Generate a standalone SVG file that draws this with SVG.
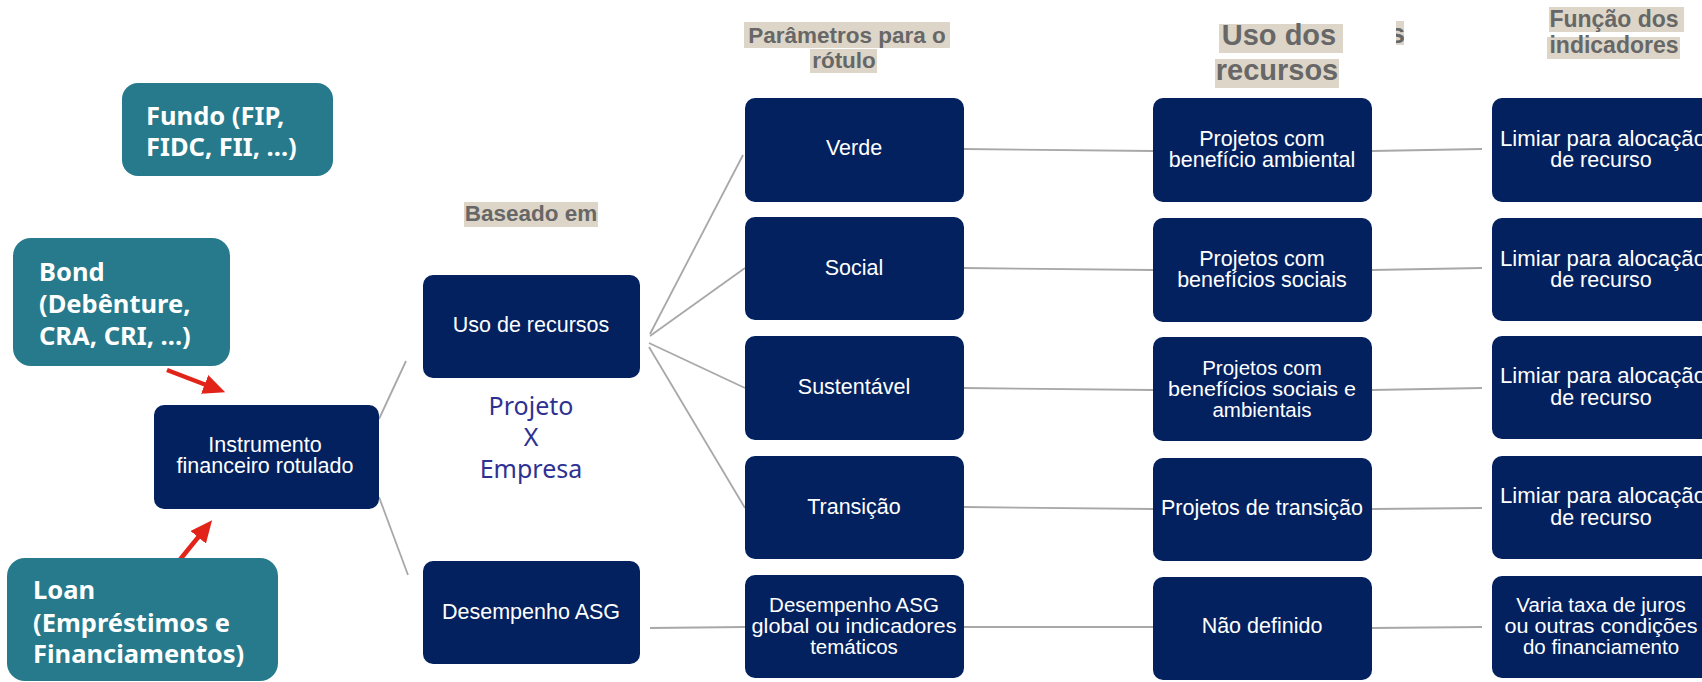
<svg xmlns="http://www.w3.org/2000/svg" width="1702" height="682" viewBox="0 0 1702 682">
<style>
.teal{fill:#267a8b}
.navy{fill:#03215f}
.tt{font-family:"Noto Sans","DejaVu Sans",sans-serif;font-weight:bold;font-size:25.5px;fill:#ffffff}
.nt{font-family:"Liberation Sans",Arial,sans-serif;font-size:21.5px;fill:#ffffff;text-anchor:middle}
.n3{font-size:20.5px}
.hl{fill:#ddd6c8}
.ht{font-family:"Liberation Sans",Arial,sans-serif;font-weight:bold;fill:#676767;text-anchor:middle}
.pe{font-family:"Noto Sans","DejaVu Sans",sans-serif;font-size:25px;fill:#2e3192;text-anchor:middle}
.cn{stroke:#a8a8a8;stroke-width:1.8;fill:none}
.ra{stroke:#e2231a;stroke-width:4.5;fill:none}
</style>
<defs>
<marker id="redArrow" markerUnits="userSpaceOnUse" markerWidth="22" markerHeight="20" viewBox="0 0 22 20" refX="10" refY="10" orient="auto">
<path d="M0,0 L22,10 L0,20 z" fill="#e2231a"/>
</marker>
<clipPath id="sclip"><rect x="1396" y="21" width="8" height="24"/></clipPath>
</defs>
<rect width="1702" height="682" fill="#ffffff"/>

<g id="labels">
<rect class="hl" x="744" y="22" width="206" height="26"/>
<rect class="hl" x="810" y="49" width="67" height="24"/>
<text class="ht" x="847" y="43" font-size="22.5">Parâmetros para o</text>
<text class="ht" x="844" y="68" font-size="22.5">rótulo</text>
<rect class="hl" x="464" y="202" width="134" height="25"/>
<text class="ht" x="531" y="221" font-size="22.5">Baseado em</text>
<rect class="hl" x="1219" y="24" width="124" height="29"/>
<rect class="hl" x="1215" y="59" width="124" height="29"/>
<text class="ht" x="1279" y="45" font-size="29">Uso dos</text>
<text class="ht" x="1277" y="80" font-size="29">recursos</text>
<rect class="hl" x="1396" y="21" width="8" height="24"/>
<text class="ht" x="1405" y="43" font-size="28" style="text-anchor:end" clip-path="url(#sclip)">s</text>
<rect class="hl" x="1549" y="7" width="135" height="25"/>
<rect class="hl" x="1547" y="37" width="133" height="22"/>
<text class="ht" x="1614" y="27" font-size="23">Função dos</text>
<text class="ht" x="1614" y="53" font-size="23">indicadores</text>
<text class="pe" x="531" y="415">Projeto</text>
<text class="pe" x="531" y="446">X</text>
<text class="pe" x="531" y="478">Empresa</text>
</g>

<g id="connectors">
<line class="cn" x1="379" y1="419" x2="406" y2="361"/>
<line class="cn" x1="379" y1="497" x2="408" y2="575"/>
<line class="cn" x1="650" y1="334" x2="743" y2="155"/>
<line class="cn" x1="650" y1="336" x2="745" y2="268"/>
<line class="cn" x1="649" y1="343" x2="745" y2="388"/>
<line class="cn" x1="649" y1="347" x2="745" y2="508"/>
<line class="cn" x1="650" y1="628" x2="745" y2="627"/>
<line class="cn" x1="964" y1="149" x2="1153" y2="151"/>
<line class="cn" x1="964" y1="268" x2="1153" y2="270"/>
<line class="cn" x1="964" y1="388" x2="1153" y2="390"/>
<line class="cn" x1="964" y1="507" x2="1153" y2="509"/>
<line class="cn" x1="964" y1="627" x2="1153" y2="627"/>
<line class="cn" x1="1372" y1="151" x2="1482" y2="149"/>
<line class="cn" x1="1372" y1="270" x2="1482" y2="268"/>
<line class="cn" x1="1372" y1="390" x2="1482" y2="388"/>
<line class="cn" x1="1372" y1="509" x2="1482" y2="508"/>
<line class="cn" x1="1372" y1="628" x2="1482" y2="627"/>
<line class="ra" x1="167" y1="370" x2="214" y2="388" marker-end="url(#redArrow)"/>
<line class="ra" x1="178" y1="562" x2="204.5" y2="529.5" marker-end="url(#redArrow)"/>
</g>

<g id="fundo"><rect class="teal" x="122" y="83" width="211" height="93" rx="16"/>
<text class="tt" x="146" y="125">Fundo (FIP,</text><text class="tt" x="146" y="156">FIDC, FII, ...)</text></g>
<g id="bond"><rect class="teal" x="13" y="238" width="217" height="128" rx="18"/>
<text class="tt" x="39" y="281">Bond</text><text class="tt" x="39" y="313">(Debênture,</text><text class="tt" x="39" y="345">CRA, CRI, ...)</text></g>
<g id="loan"><rect class="teal" x="7" y="558" width="271" height="123" rx="18"/>
<text class="tt" x="33" y="599">Loan</text><text class="tt" x="33" y="632">(Empréstimos e</text><text class="tt" x="33" y="663">Financiamentos)</text></g>

<g id="instrumento"><rect class="navy" x="154" y="405" width="225" height="104" rx="10"/>
<text class="nt" x="265" y="452">Instrumento</text><text class="nt" x="265" y="473">financeiro rotulado</text></g>
<g id="uso-recursos"><rect class="navy" x="423" y="275" width="217" height="103" rx="10"/>
<text class="nt" x="531" y="332">Uso de recursos</text></g>
<g id="desempenho-asg"><rect class="navy" x="423" y="561" width="217" height="103" rx="10"/>
<text class="nt" x="531" y="619">Desempenho ASG</text></g>

<g id="verde"><rect class="navy" x="745" y="98" width="219" height="104" rx="10"/>
<text class="nt" x="854" y="155">Verde</text></g>
<g id="social"><rect class="navy" x="745" y="217" width="219" height="103" rx="10"/>
<text class="nt" x="854" y="275">Social</text></g>
<g id="sustentavel"><rect class="navy" x="745" y="336" width="219" height="104" rx="10"/>
<text class="nt" x="854" y="394">Sustentável</text></g>
<g id="transicao"><rect class="navy" x="745" y="456" width="219" height="103" rx="10"/>
<text class="nt" x="854" y="514">Transição</text></g>
<g id="desempenho-global"><rect class="navy" x="745" y="575" width="219" height="103" rx="10"/>
<text class="nt n3" x="854" y="612">Desempenho ASG</text><text class="nt n3" x="854" y="633" textLength="205" lengthAdjust="spacingAndGlyphs">global ou indicadores</text><text class="nt n3" x="854" y="654">temáticos</text></g>

<g id="proj-ambiental"><rect class="navy" x="1153" y="98" width="219" height="104" rx="10"/>
<text class="nt" x="1262" y="146">Projetos com</text><text class="nt" x="1262" y="167">benefício ambiental</text></g>
<g id="proj-sociais"><rect class="navy" x="1153" y="218" width="219" height="104" rx="10"/>
<text class="nt" x="1262" y="266">Projetos com</text><text class="nt" x="1262" y="287">benefícios sociais</text></g>
<g id="proj-sociais-ambientais"><rect class="navy" x="1153" y="337" width="219" height="104" rx="10"/>
<text class="nt n3" x="1262" y="375">Projetos com</text><text class="nt n3" x="1262" y="396" textLength="188" lengthAdjust="spacingAndGlyphs">benefícios  sociais e</text><text class="nt n3" x="1262" y="417">ambientais</text></g>
<g id="proj-transicao"><rect class="navy" x="1153" y="458" width="219" height="103" rx="10"/>
<text class="nt" x="1262" y="515">Projetos de transição</text></g>
<g id="nao-definido"><rect class="navy" x="1153" y="577" width="219" height="103" rx="10"/>
<text class="nt" x="1262" y="633">Não definido</text></g>

<g id="limiar-1"><rect class="navy" x="1492" y="98" width="219" height="104" rx="10"/>
<text class="nt" x="1500" y="146" style="text-anchor:start" textLength="206" lengthAdjust="spacingAndGlyphs">Limiar para alocação</text><text class="nt" x="1601" y="167">de recurso</text></g>
<g id="limiar-2"><rect class="navy" x="1492" y="218" width="219" height="103" rx="10"/>
<text class="nt" x="1500" y="266" style="text-anchor:start" textLength="206" lengthAdjust="spacingAndGlyphs">Limiar para alocação</text><text class="nt" x="1601" y="287">de recurso</text></g>
<g id="limiar-3"><rect class="navy" x="1492" y="336" width="219" height="103" rx="10"/>
<text class="nt" x="1500" y="383" style="text-anchor:start" textLength="206" lengthAdjust="spacingAndGlyphs">Limiar para alocação</text><text class="nt" x="1601" y="405">de recurso</text></g>
<g id="limiar-4"><rect class="navy" x="1492" y="456" width="219" height="103" rx="10"/>
<text class="nt" x="1500" y="503" style="text-anchor:start" textLength="206" lengthAdjust="spacingAndGlyphs">Limiar para alocação</text><text class="nt" x="1601" y="525">de recurso</text></g>
<g id="varia"><rect class="navy" x="1492" y="576" width="219" height="102" rx="10"/>
<text class="nt n3" x="1601" y="612">Varia taxa de juros</text><text class="nt n3" x="1601" y="633" textLength="193" lengthAdjust="spacingAndGlyphs">ou outras condições</text><text class="nt n3" x="1601" y="654">do financiamento</text></g>
</svg>
